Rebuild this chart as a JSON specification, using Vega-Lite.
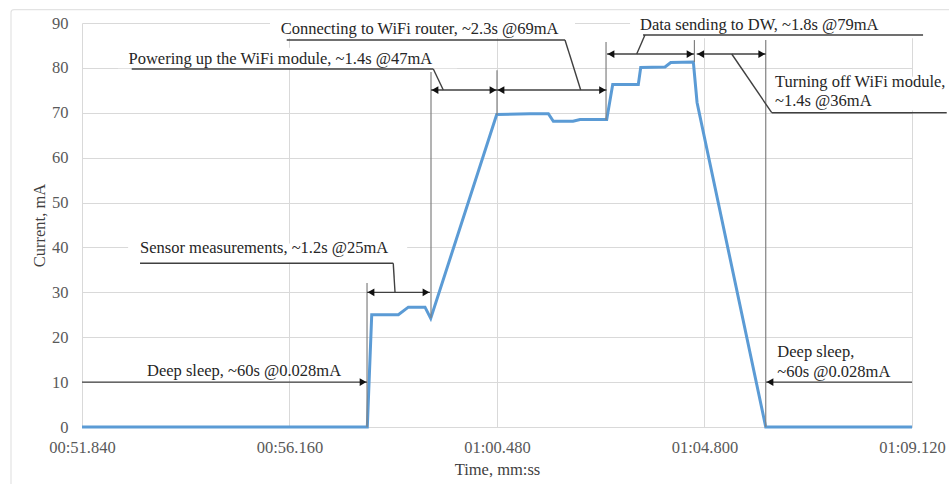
{
  "$schema": "https://vega.github.io/schema/vega-lite/v6.json",
  "width": 830,
  "height": 404,
  "autosize": {"type": "none"},
  "padding": {"left": 82, "top": 23, "right": 37, "bottom": 57},
  "background": "white",
  "config": {
    "view": {"stroke": null},
    "font": "Liberation Serif",
    "axis": {
      "labelFont": "Liberation Serif",
      "titleFont": "Liberation Serif",
      "labelFontSize": 16.5,
      "titleFontSize": 16.5,
      "titleFontWeight": "normal",
      "labelColor": "#595959",
      "titleColor": "#404040",
      "gridColor": "#d9d9d9",
      "gridWidth": 1,
      "domain": false,
      "ticks": false
    }
  },
  "datasets": {
    "series": [
      {"t": 51.84, "v": 0}, {"t": 57.78, "v": 0}, {"t": 57.872, "v": 25},
      {"t": 58.426, "v": 25}, {"t": 58.634, "v": 26.7}, {"t": 58.981, "v": 26.7},
      {"t": 59.1, "v": 24.2}, {"t": 60.474, "v": 69.6}, {"t": 61.167, "v": 69.8},
      {"t": 61.549, "v": 69.8}, {"t": 61.653, "v": 68.1}, {"t": 62.063, "v": 68.1},
      {"t": 62.209, "v": 68.5}, {"t": 62.764, "v": 68.5}, {"t": 62.889, "v": 76.3},
      {"t": 63.422, "v": 76.3}, {"t": 63.472, "v": 80.1}, {"t": 63.978, "v": 80.2},
      {"t": 64.097, "v": 81.2}, {"t": 64.568, "v": 81.3}, {"t": 64.645, "v": 72.3},
      {"t": 66.075, "v": 0}, {"t": 69.12, "v": 0}
    ],
    "frame": [
      {"t": 50.362, "t2": 70.6, "v": -25, "v2": 93.0}
    ],
    "boxes": [
      {"t": 52.8, "t2": 58.61, "v": 36.6, "v2": 40.9},
      {"t": 52.59, "t2": 59.65, "v": 79.9, "v2": 84.5},
      {"t": 55.754, "t2": 62.104, "v": 86.6, "v2": 91.5},
      {"t": 63.25, "t2": 69.89, "v": 86.6, "v2": 91.5},
      {"t": 66.2, "t2": 69.89, "v": 70.5, "v2": 78.0}
    ],
    "segs": [
      {"kind": "leader", "t": 51.84, "t2": 57.774, "v": 10, "v2": 10},
      {"kind": "leader", "t": 53.048, "t2": 58.32, "v": 36.47, "v2": 36.47},
      {"kind": "leader", "t": 58.32, "t2": 58.357, "v": 36.47, "v2": 30.0},
      {"kind": "leader", "t": 57.774, "t2": 59.085, "v": 30.0, "v2": 30.0},
      {"kind": "leader", "t": 52.875, "t2": 59.154, "v": 79.75, "v2": 79.75},
      {"kind": "leader", "t": 59.154, "t2": 59.362, "v": 79.75, "v2": 75.07},
      {"kind": "leader", "t": 59.106, "t2": 60.48, "v": 75.07, "v2": 75.07},
      {"kind": "leader", "t": 56.102, "t2": 61.896, "v": 86.21, "v2": 86.21},
      {"kind": "leader", "t": 61.896, "t2": 62.223, "v": 86.21, "v2": 75.07},
      {"kind": "leader", "t": 60.48, "t2": 62.76, "v": 75.07, "v2": 75.07},
      {"kind": "leader", "t": 63.52, "t2": 69.35, "v": 87.32, "v2": 87.32},
      {"kind": "leader", "t": 63.56, "t2": 63.389, "v": 87.32, "v2": 83.09},
      {"kind": "leader", "t": 62.771, "t2": 64.582, "v": 83.09, "v2": 83.09},
      {"kind": "leader", "t": 66.2, "t2": 69.843, "v": 70.02, "v2": 70.02},
      {"kind": "leader", "t": 66.2, "t2": 65.367, "v": 70.02, "v2": 83.09},
      {"kind": "leader", "t": 64.638, "t2": 66.075, "v": 83.09, "v2": 83.09},
      {"kind": "leader", "t": 66.081, "t2": 69.12, "v": 10, "v2": 10},
      {"kind": "marker", "t": 57.774, "t2": 57.774, "v": 32.08, "v2": 0},
      {"kind": "marker", "t": 59.106, "t2": 59.106, "v": 79.08, "v2": 24.28},
      {"kind": "marker", "t": 60.48, "t2": 60.48, "v": 79.5, "v2": 69.5},
      {"kind": "marker", "t": 62.75, "t2": 62.75, "v": 85.77, "v2": 68.4},
      {"kind": "marker", "t": 64.59, "t2": 64.59, "v": 86.2, "v2": 81.3},
      {"kind": "marker", "t": 66.075, "t2": 66.075, "v": 86.2, "v2": 0}
    ],
    "arrows": [
      {"dir": "right", "t": 57.774, "v": 10},
      {"dir": "left", "t": 57.774, "v": 30.0},
      {"dir": "right", "t": 59.085, "v": 30.0},
      {"dir": "left", "t": 59.106, "v": 75.07},
      {"dir": "right", "t": 60.48, "v": 75.07},
      {"dir": "left", "t": 60.48, "v": 75.07},
      {"dir": "right", "t": 62.76, "v": 75.07},
      {"dir": "left", "t": 62.771, "v": 83.09},
      {"dir": "right", "t": 64.582, "v": 83.09},
      {"dir": "left", "t": 64.638, "v": 83.09},
      {"dir": "right", "t": 66.075, "v": 83.09},
      {"dir": "left", "t": 66.081, "v": 10}
    ],
    "labels": [
      {"text": "Deep sleep, ~60s @0.028mA", "t": 53.193, "v": 12.47},
      {"text": "Sensor measurements, ~1.2s @25mA", "t": 53.048, "v": 39.81},
      {"text": "Powering up the WiFi module, ~1.4s @47mA", "t": 52.808, "v": 82.02},
      {"text": "Connecting to WiFi router, ~2.3s @69mA", "t": 55.977, "v": 88.59},
      {"text": "Data sending to DW, ~1.8s @79mA", "t": 63.458, "v": 89.55},
      {"text": "Turning off WiFi module,", "t": 66.268, "v": 76.92},
      {"text": "~1.4s @36mA", "t": 66.268, "v": 72.69},
      {"text": "Deep sleep,", "t": 66.316, "v": 16.77},
      {"text": "~60s @0.028mA", "t": 66.316, "v": 12.32}
    ]
  },
  "encoding": {
    "x": {
      "field": "t",
      "type": "quantitative",
      "scale": {"domain": [51.84, 69.12], "nice": false, "zero": false},
      "axis": {
        "title": "Time, mm:ss",
        "values": [51.84, 56.16, 60.48, 64.8, 69.12],
        "labelExpr": "'0' + floor(datum.value / 60) + ':' + format(datum.value % 60, '06.3f')",
        "labelFont": "Liberation Serif",
        "titleFont": "Liberation Serif",
        "labelPadding": 12,
        "titlePadding": 6,
        "labelFlush": false,
        "labelOverlap": false
      }
    },
    "y": {
      "field": "v",
      "type": "quantitative",
      "scale": {"domain": [0, 90], "nice": false},
      "axis": {
        "title": "Current, mA",
        "values": [0, 10, 20, 30, 40, 50, 60, 70, 80, 90],
        "labelFont": "Liberation Serif",
        "titleFont": "Liberation Serif",
        "labelPadding": 14,
        "titlePadding": 4
      }
    }
  },
  "layer": [
    {
      "data": {"name": "frame"},
      "mark": {"type": "rect", "fill": null, "stroke": "#e3e3e3", "strokeWidth": 1.2, "cornerRadius": 3, "clip": false},
      "encoding": {"x2": {"field": "t2"}, "y2": {"field": "v2"}}
    },
    {
      "data": {"name": "boxes"},
      "mark": {"type": "rect", "fill": "white", "stroke": null, "clip": false},
      "encoding": {"x2": {"field": "t2"}, "y2": {"field": "v2"}}
    },
    {
      "data": {"name": "series"},
      "mark": {"type": "line", "color": "#5B9BD5", "strokeWidth": 3, "strokeJoin": "miter", "clip": false},
      "encoding": {}
    },
    {
      "data": {"name": "segs"},
      "transform": [{"filter": "datum.kind === 'marker'"}],
      "mark": {"type": "rule", "color": "#808080", "strokeWidth": 1.2, "clip": false},
      "encoding": {"x2": {"field": "t2"}, "y2": {"field": "v2"}}
    },
    {
      "data": {"name": "segs"},
      "transform": [{"filter": "datum.kind === 'leader'"}],
      "mark": {"type": "rule", "color": "#404040", "strokeWidth": 1.4, "clip": false},
      "encoding": {"x2": {"field": "t2"}, "y2": {"field": "v2"}}
    },
    {
      "data": {"name": "arrows"},
      "transform": [{"filter": "datum.dir === 'right'"}],
      "mark": {"type": "point", "shape": "triangle-right", "filled": true, "color": "#111111", "opacity": 1, "size": 60, "xOffset": -4, "clip": false},
      "encoding": {}
    },
    {
      "data": {"name": "arrows"},
      "transform": [{"filter": "datum.dir === 'left'"}],
      "mark": {"type": "point", "shape": "triangle-left", "filled": true, "color": "#111111", "opacity": 1, "size": 60, "xOffset": 4, "clip": false},
      "encoding": {}
    },
    {
      "data": {"name": "labels"},
      "mark": {"type": "text", "align": "left", "baseline": "middle", "font": "Liberation Serif", "fontSize": 16.5, "color": "#262626", "clip": false},
      "encoding": {"text": {"field": "text"}}
    }
  ]
}
